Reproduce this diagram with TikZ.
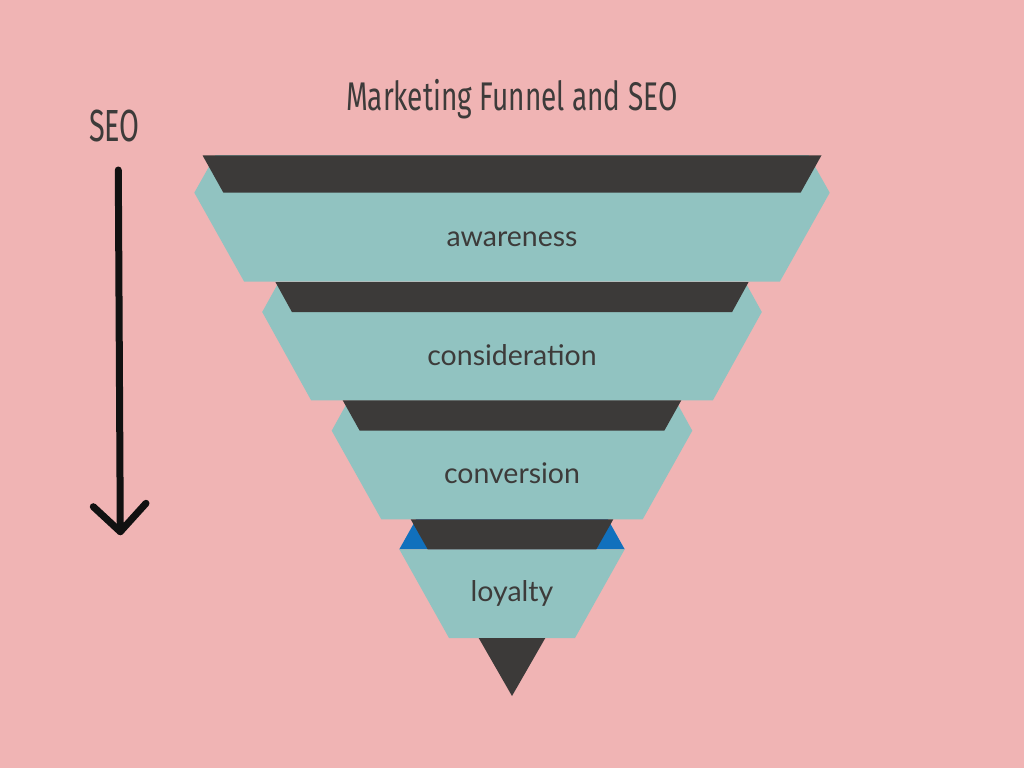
\documentclass[tikz,border=0pt]{standalone}
\usepackage{fontspec}
\setmainfont{Lato}
\newfontfamily\titlefont[FakeStretch=0.70]{Fira Sans}
\newfontfamily\seofont[FakeStretch=0.64]{Fira Sans}
\usetikzlibrary{calc}
\definecolor{funnelpink}{HTML}{F0B4B4}
\definecolor{funnelteal}{HTML}{91C3C1}
\definecolor{funneldark}{HTML}{3C3A39}
\definecolor{funnelblue}{HTML}{1170BD}
\definecolor{funneltext}{HTML}{3D3B3A}
\definecolor{arrowblack}{HTML}{111111}

\begin{document}
\begin{tikzpicture}[x=1pt,y=-1pt,
    band/.style={fill=funnelteal},
    rim/.style={fill=funneldark},
    stagelabel/.style={anchor=base,text=funneltext,font=\fontsize{28.5}{30}\selectfont},
    seoarrow/.style={line width=7pt,line cap=round,line join=round,color=arrowblack}]
			%%%%% BACKGROUND %%%%%
			\fill[funnelpink] (0,0) rectangle (1024,768);
			
			%%%%% AWARENESS %%%%%
			\fill[band] (215.5,155) -- (194.3,192.7) -- (244.2,281.7) -- (779.8,281.7) -- (829.7,192.7) -- (808.5,155) -- cycle;
			\fill[rim] (202.5,155.3) -- (821.5,155.3) -- (800.6,192.7) -- (223.4,192.7) -- cycle;
			\node[stagelabel] (awareness) at (512,246) {awareness};
			
			%%%%% CONSIDERATION %%%%%
			\fill[band] (278.8,282) -- (262.2,312) -- (311.1,400.3) -- (712.9,400.3) -- (761.8,312) -- (745.2,282) -- cycle;
			\fill[rim] (275.4,282) -- (748.6,282) -- (732.1,312) -- (291.9,312) -- cycle;
			\node[stagelabel] (consideration) at (512,365.7) {consideration};
			
			%%%%% CONVERSION %%%%%
			\fill[band] (348.5,400.3) -- (331.7,430.7) -- (381.3,519.3) -- (642.7,519.3) -- (692.3,430.7) -- (675.5,400.3) -- cycle;
			\fill[rim] (342.7,400.3) -- (681.3,400.3) -- (664.3,430.7) -- (359.7,430.7) -- cycle;
			\node[stagelabel] (conversion) at (512,483.7) {conversion};
			
			%%%%% LOYALTY %%%%%
			\fill[funnelblue] (416.1,519.3) -- (399.3,549.3) -- (624.7,549.3) -- (607.9,519.3) -- cycle;
			\fill[band] (399.3,549.3) -- (449,638) -- (575,638) -- (624.7,549.3) -- cycle;
			\fill[rim] (410.7,519.3) -- (613.3,519.3) -- (596.3,549.3) -- (427.7,549.3) -- cycle;
			\node[stagelabel] (loyalty) at (512,601.7) {loyalty};
			
			\fill[rim] (478.7,638) -- (545.3,638) -- (512,696) -- cycle;
			
			%%%%% TITLE %%%%%
			\node[anchor=base,text=funneltext] (title) at (511.7,110.5) {\titlefont\fontsize{40}{42}\selectfont Marketing Funnel and SEO};
			
			%%%%% SEO ARROW %%%%%
			\node[anchor=base,text=funneltext] (seo) at (114.5,141) {\seofont\fontsize{45}{47}\selectfont SEO};
			\coordinate (seo top) at (118.3,170);
			\coordinate (seo tip) at (120.3,531.7);
			\coordinate (barb left) at (93.3,506.7);
			\coordinate (barb right) at (146,503.3);
			\draw[seoarrow] (seo top) -- (seo tip);
			\draw[seoarrow] (barb left) -- (seo tip) -- (barb right);
			
			%%%%% END %%%%%
\end{tikzpicture}
\end{document}
